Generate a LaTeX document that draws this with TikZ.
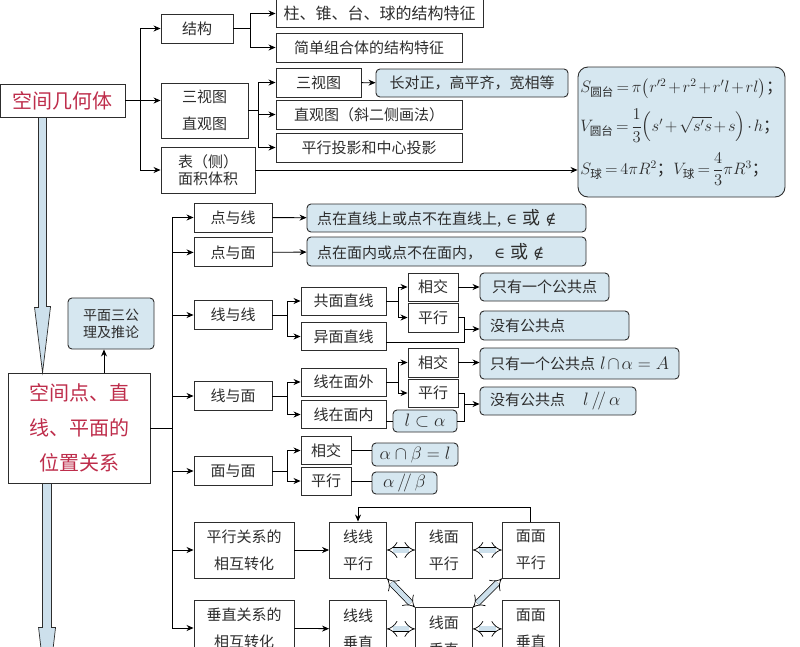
\RequirePackage{fix-cm}
\documentclass[tikz,border=0pt]{standalone}
\usepackage{amsmath}
\usepackage{amssymb}
\usepackage[no-math]{fontspec}
\setmainfont{Noto Sans CJK SC}
\newfontfamily\symfont{DejaVu Serif}
\usepackage{tikz}
\usetikzlibrary{positioning, arrows.meta}
\usepackage{xcolor}
\definecolor{noteblue}{RGB}{214,231,240}
\definecolor{titlered}{RGB}{190,45,75}
\definecolor{boxline}{RGB}{45,45,45}
\definecolor{shaftblue}{RGB}{205,224,236}
\newcommand{\tightmath}{\medmuskip=2mu\relax\thickmuskip=3mu\relax}
\newcommand{\inor}{{\symfont\itshape ∈} {\fontsize{18}{18}\selectfont 或} {\symfont\itshape ∉}}

\begin{document}
\begin{tikzpicture}[x=1pt, y=-1pt, >={Stealth[length=7pt,width=6pt]}, line width=0.8pt,
    wh/.style 2 args={minimum width=#1, minimum height=#2},
    box/.style={draw=boxline, fill=white, inner sep=0pt, text=boxline, line width=0.9pt,
                font=\fontsize{15}{18}\selectfont},
    twoline/.style={box, align=center, font=\fontsize{15}{27}\selectfont},
    pair/.style={twoline, wh={57pt}{56pt}},
    note/.style={box, fill=noteblue, rounded corners=4pt},
    lnote/.style={note, align=left, inner xsep=10pt, text width=#1},
    mathnote/.style={note, font=\fontsize{18}{20}\selectfont},
    title/.style={box, text=titlered, align=center, font=\fontsize{20}{35}\selectfont},
    dbl/.style={double=shaftblue, double distance=5pt, line width=0.7pt, {Implies}-{Implies}},
    hollow/.style={draw=boxline, fill=shaftblue, line width=0.7pt}]

    \useasboundingbox (0,0) rectangle (800,646);
    \fill[white] (0,0) rectangle (800,646);
    \clip (0,0) rectangle (800,646);

    \node[title, wh={125pt}{33pt}] (geo) at (62.5,100.5) {空间几何体};
    \node[box, wh={72pt}{29pt}] (jg) at (197,28.5) {结构};
    \node[twoline, wh={87pt}{55pt}] (stz) at (204.5,110.5) {三视图\\直观图};
    \node[box, wh={94pt}{46pt}, align=center, font=\fontsize{15}{17}\selectfont] (mj) at (208,170) {表（侧）\\面积体积};
    \node[box, wh={207pt}{28pt}, font=\fontsize{16}{18}\selectfont] (zt1) at (379.5,13.5) {柱、锥、台、球的结构特征};
    \node[box, wh={186pt}{29pt}] (zt2) at (369,47.5) {简单组合体的结构特征};
    \node[box, wh={85pt}{29pt}] (sst) at (318.5,82.5) {三视图};
    \node[note, wh={192pt}{28pt}] (czd) at (472,83) {长对正，高平齐，宽相等};
    \node[box, wh={186pt}{29pt}] (zgt) at (369,114.5) {直观图（斜二侧画法）};
    \node[box, wh={186pt}{29pt}] (ty) at (369,147.5) {平行投影和中心投影};
    \node[note, rounded corners=10pt, wh={207pt}{130pt}, align=left, inner xsep=2pt,
          font={\fontsize{16.5}{20}\selectfont\tightmath}] (fml) at (681.5,132)
        {$S_{\text{圆台}}=\pi\bigl(r'^2+r^2+r'l+rl\bigr)$；\\[10pt]
         $V_{\text{圆台}}=\dfrac{1}{3}\Bigl(s'+\sqrt{s's}+s\Bigr)\cdot h$；\\[9pt]
         $S_{\text{球}}=4\pi R^2$；$V_{\text{球}}=\dfrac{4}{3}\pi R^3$；};

    \node[note, wh={86pt}{51pt}, align=center, font=\fontsize{14}{17}\selectfont] (ax) at (111,323.5) {平面三公\\理及推论};
    \node[title, wh={142pt}{110pt}] (pos) at (79,428) {空间点、直\\线、平面的\\位置关系};

    \node[box, wh={78pt}{29pt}] (dx) at (233,217.5) {点与线};
    \node[box, wh={78pt}{29pt}, below=5pt of dx] (dm) {点与面};
    \node[box, wh={78pt}{29pt}] (xx) at (233,315) {线与线};
    \node[box, wh={78pt}{29pt}] (xm) at (233,396) {线与面};
    \node[box, wh={78pt}{29pt}] (mm) at (233,471) {面与面};
    \node[twoline, wh={100pt}{56pt}] (pxz) at (244,550) {平行关系的\\相互转化};
    \node[twoline, wh={100pt}{56pt}] (czz) at (244,628) {垂直关系的\\相互转化};

    \node[lnote=259pt, minimum height=28pt] (n1) at (446.5,218) {点在直线上或点不在直线上, \inor};
    \node[lnote=259pt, minimum height=29pt] (n2) at (446.5,251.5) {点在面内或点不在面内，\hspace{12pt}\inor};

    \node[box, wh={85pt}{28pt}] (gm) at (343.5,301) {共面直线};
    \node[box, wh={85pt}{28pt}] (ym) at (343.5,336.5) {异面直线};
    \node[box, wh={50pt}{28pt}] (xj1) at (433,287) {相交};
    \node[box, wh={50pt}{29pt}] (px1) at (433,317.5) {平行};
    \node[note, wh={129pt}{28pt}] (o1) at (544.5,287) {只有一个公共点};
    \node[lnote=129pt, minimum height=29pt] (z1) at (554.5,325.5) {没有公共点};

    \node[box, wh={85pt}{28pt}] (wm) at (343.5,382) {线在面外};
    \node[box, wh={85pt}{28pt}] (nm) at (343.5,414.5) {线在面内};
    \node[box, wh={50pt}{29pt}] (xj2) at (433,362.5) {相交};
    \node[box, wh={50pt}{28pt}] (px2) at (433,393) {平行};
    \node[lnote=179pt, minimum height=31pt] (o2) at (579.5,363.5) {只有一个公共点\ {\fontsize{18}{18}\selectfont$l\cap\alpha=A$}};
    \node[lnote=136pt, minimum height=28pt] (z2) at (558,401) {没有公共点\hspace{18pt}{\fontsize{18}{18}\selectfont$l\,/\!/\,\alpha$}};
    \node[mathnote, wh={64pt}{22pt}] (lin) at (425,421) {$l\subset\alpha$};

    \node[box, wh={50pt}{28pt}] (xj3) at (326,450.5) {相交};
    \node[box, wh={50pt}{28pt}] (px3) at (326,481) {平行};
    \node[mathnote, wh={86pt}{23pt}] (ab1) at (415,454.5) {$\alpha\cap\beta=l$};
    \node[mathnote, wh={65pt}{22pt}] (ab2) at (404.5,483) {$\alpha\,/\!/\,\beta$};

    \node[pair] (llp) at (358,550) {线线\\平行};
    \node[pair, right=28pt of llp] (lmp) {线面\\平行};
    \node[pair, right=29pt of lmp] (mmp) {面面\\平行};
    \node[pair, below=22pt of llp] (llc) {线线\\垂直};
    \node[pair, below=29pt of lmp] (lmc) {线面\\垂直};
    \node[pair, below=22pt of mmp] (mmc) {面面\\垂直};

    \coordinate (s1) at (140,100.5);
    \coordinate (s2) at (250,28.5);
    \coordinate (s3) at (258,110.5);
    \coordinate (s4) at (172,428);
    \coordinate (s5) at (287,315);
    \coordinate (s6) at (398,301);
    \coordinate (s8) at (287,396);
    \coordinate (s9) at (398,382);
    \coordinate (s10) at (287,471);
    \coordinate (b1) at (464,329);
    \coordinate (b2) at (464,404);

    \draw (geo) -- (s1);
    \draw[->] (s1) -- (s1 -| stz.west);
    \draw[->] (s1) |- (jg);
    \draw[->] (s1) |- (mj);
    \draw (jg) -- (s2);
    \draw[->] (s2) |- (zt1);
    \draw[->] (s2) |- (zt2);
    \draw (stz) -- (s3);
    \draw[->] (s3) |- (sst);
    \draw[->] (s3) |- (zgt);
    \draw[->] (s3) |- (ty);
    \path[->] (sst) edge (czd);
    \draw[->] (mj) -- (mj -| fml.west);

    \draw[hollow] ([xshift=39pt]geo.south west) -- ++(0,190) -- ++(-4,0) -- ([xshift=35pt]pos.north west)
        -- ++(8,-66) -- ++(-4,0) -- ([xshift=47pt]geo.south west) -- cycle;
    \draw[hollow] ([xshift=35pt]pos.south west) -- ++(0,144) -- ++(-4,0) -- ++(8.5,73)
        -- ++(8.5,-73) -- ++(-4,0) -- ([xshift=44pt]pos.south west) -- cycle;
    \draw[->] ([xshift=25pt]pos.north) -- ([xshift=-7pt]ax.south);

    \draw (pos) -- (s4);
    \draw[->] (s4) |- (dx);
    \draw[->] (s4) |- (dm);
    \draw[->] (s4) |- (xx);
    \draw[->] (s4) |- (xm);
    \draw[->] (s4) |- (mm);
    \draw[->] (s4) |- (pxz);
    \draw[->] (s4) |- (czz);
    \path[->] (dx) edge (n1)
              (dm) edge (n2);

    \draw (xx) -- (s5);
    \draw[->] (s5) |- (gm);
    \draw[->] (s5) |- (ym);
    \draw (gm) -- (s6);
    \draw[->] (s6) |- (xj1);
    \draw[->] (s6) |- (px1);
    \path[->] (xj1) edge (o1);
    \draw (px1) -| (b1);
    \draw ([yshift=-6pt]ym.east) -| (b1);
    \draw[->] (b1) -- (b1 -| z1.west);

    \draw (xm) -- (s8);
    \draw[->] (s8) |- (wm);
    \draw[->] (s8) |- (nm);
    \draw (wm) -- (s9);
    \draw[->] (s9) |- (xj2);
    \draw[->] (s9) |- (px2);
    \draw[->] (xj2) -- (xj2 -| o2.west);
    \draw (px2) -| (b2);
    \draw (nm.east |- lin) -- (lin);
    \draw (lin) -| (b2);
    \draw[->] (b2) -- (b2 -| z2.west);

    \draw (mm) -- (s10);
    \draw[->] (s10) |- (xj3);
    \draw[->] (s10) |- (px3);
    \draw (xj3) -- (xj3 -| ab1.west);
    \draw (px3) -- (px3 -| ab2.west);

    \path[->] (pxz) edge (llp)
              (czz) edge (llc);
    \draw[dbl] (llp) -- (lmp);
    \draw[dbl] (lmp) -- (mmp);
    \draw[dbl] (llc) -- (llc -| lmc.west);
    \draw[dbl] (mmc) -- (mmc -| lmc.east);
    \draw[dbl] (llp.south east) -- (lmc.north west);
    \draw[dbl] (mmp.south west) -- (lmc.north east);
    \draw[->] (mmp.north) -- ++(0,-14) -| (llp.north);
\end{tikzpicture}
\end{document}
